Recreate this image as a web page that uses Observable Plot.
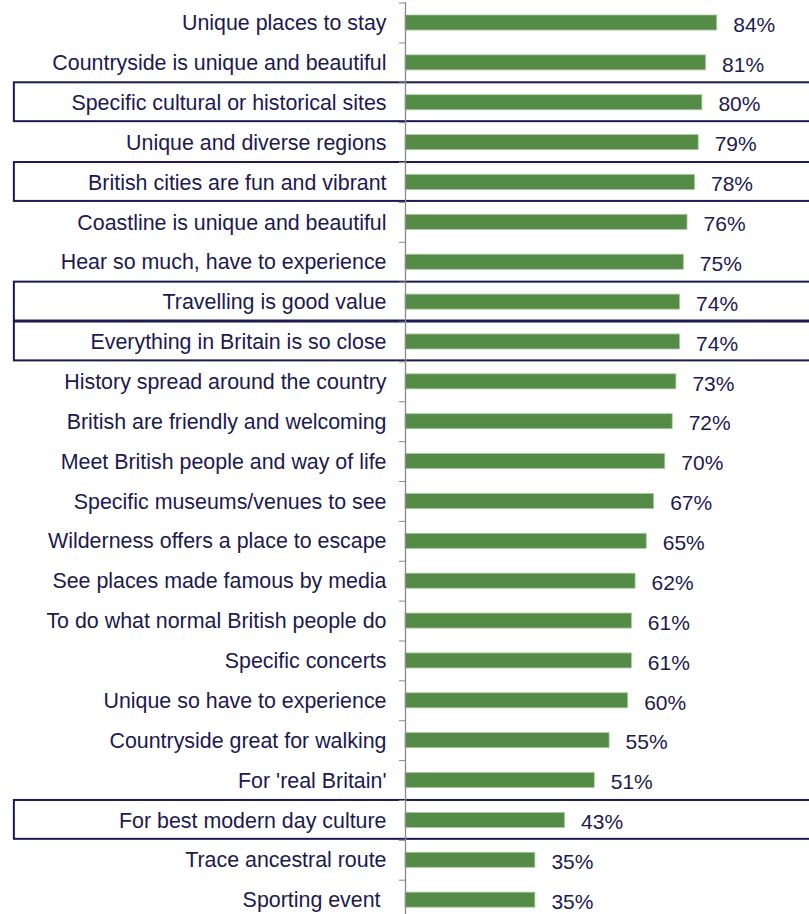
<!DOCTYPE html>
<html>
<head>
<meta charset="utf-8">
<script src="https://cdn.jsdelivr.net/npm/d3@7"></script>
<script src="https://cdn.jsdelivr.net/npm/@observablehq/plot@0.6"></script>
<style>
  html, body { margin: 0; padding: 0; background: #fff; }
  #chart svg { display: block; font-family: "Liberation Sans", Arial, sans-serif; overflow: hidden; }
</style>
</head>
<body>
<div id="chart"></div>
<script>
const categories = [
  "Unique places to stay",
  "Countryside is unique and beautiful",
  "Specific cultural or historical sites",
  "Unique and diverse regions",
  "British cities are fun and vibrant",
  "Coastline is unique and beautiful",
  "Hear so much, have to experience",
  "Travelling is good value",
  "Everything in Britain is so close",
  "History spread around the country",
  "British are friendly and welcoming",
  "Meet British people and way of life",
  "Specific museums/venues to see",
  "Wilderness offers a place to escape",
  "See places made famous by media",
  "To do what normal British people do",
  "Specific concerts",
  "Unique so have to experience",
  "Countryside great for walking",
  "For 'real Britain'",
  "For best modern day culture",
  "Trace ancestral route",
  "Sporting event\u00a0"
];
const values = [84, 81, 80, 79, 78, 76, 75, 74, 74, 73, 72, 70, 67, 65, 62, 61, 61, 60, 55, 51, 43, 35, 35];
const highlighted = [
  "Specific cultural or historical sites",
  "British cities are fun and vibrant",
  "Travelling is good value",
  "Everything in Britain is so close",
  "For best modern day culture"
];

const data = categories.map((c, i) => ({category: c, value: values[i]}));
const boxes = data.filter(d => highlighted.includes(d.category));

const navy = "#1c1a4f";
const green = "#548b46";
const axisGray = "#8a8a8a";
const step = 39.87;

const chart = Plot.plot({
  width: 809,
  height: 914,
  marginTop: 2,
  marginBottom: 0,
  marginLeft: 0,
  marginRight: 0,
  x: {domain: [0, 100], range: [405, 776.1], axis: null},
  y: {domain: categories, range: [2.56, 2.56 + step * categories.length], padding: 0, round: false, axis: null},
  marks: [
    Plot.barX(boxes, {
      x1: -105.4, x2: 112, y: "category",
      fill: "white", stroke: navy, strokeWidth: 2,
      insetTop: 0, insetBottom: 1,
      ariaLabel: "highlight"
    }),
    Plot.ruleY(categories, {y: d => d, x1: -1.65, x2: 0, dy: -step / 2, stroke: axisGray, strokeWidth: 1}),
    Plot.barX(data, {
      x: "value", y: "category",
      fill: green, stroke: "#a9c99f", strokeWidth: 0.8,
      insetTop: 12.44, insetBottom: 12.4
    }),
    Plot.ruleX([0], {stroke: axisGray, strokeWidth: 1.3}),
    Plot.text(data, {
      x: 0, y: "category", text: "category",
      textAnchor: "end", dx: -19, dy: 0.3,
      fontSize: 21.4, fill: navy
    }),
    Plot.text(data, {
      x: "value", y: "category", text: d => d.value + "%",
      textAnchor: "start", dx: 16, dy: 2,
      fontSize: 21, fill: navy
    })
  ]
});

const hl = chart.querySelector('g[aria-label="highlight"]');
if (hl) hl.style.filter = "drop-shadow(2px 3px 3px rgba(0,0,0,0.22))";

document.getElementById("chart").append(chart);
</script>
</body>
</html>
